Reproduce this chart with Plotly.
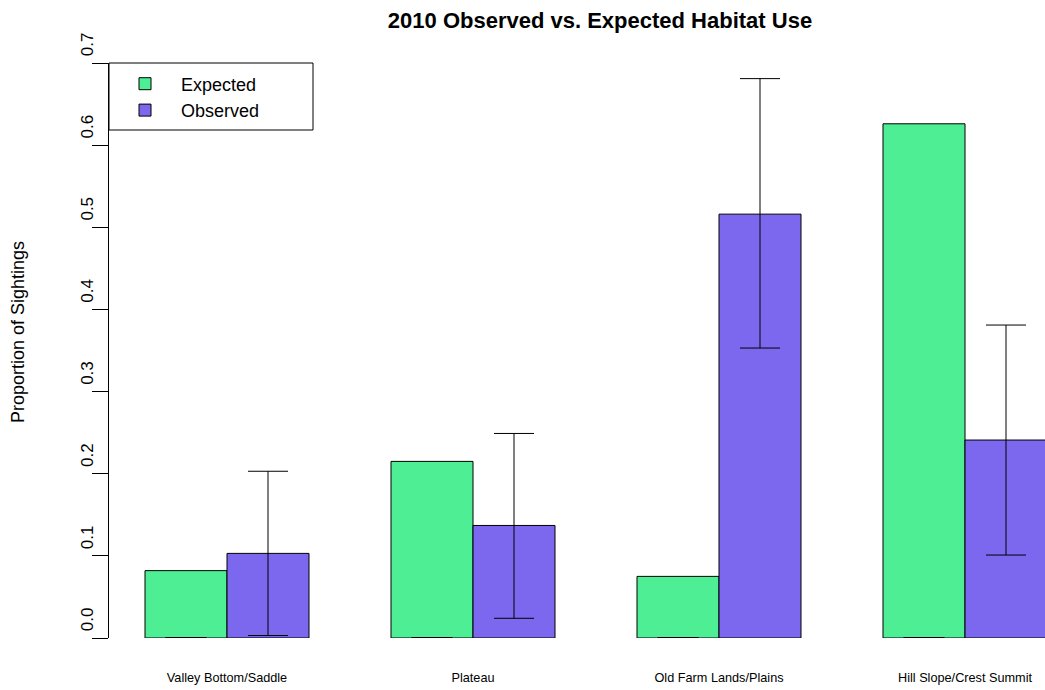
import plotly.graph_objects as go

categories = ["Valley Bottom/Saddle", "Plateau", "Old Farm Lands/Plains", "Hill Slope/Crest Summit"]
expected = [0.082, 0.215, 0.075, 0.626]
observed = [0.103, 0.137, 0.516, 0.241]
obs_upper = [0.203, 0.249, 0.681, 0.381]
obs_lower = [0.003, 0.024, 0.353, 0.101]
exp_bounds = [0.0, 0.0, 0.0, 0.0]
y_ticks = [0.0, 0.1, 0.2, 0.3, 0.4, 0.5, 0.6, 0.7]

GREEN = "#4EEE94"
PURPLE = "#7B68EE"
FONT = "Liberation Sans, Arial, Helvetica, sans-serif"

err_plus = [u - v for u, v in zip(obs_upper, observed)]
err_minus = [v - l for v, l in zip(observed, obs_lower)]

fig = go.Figure()
fig.add_trace(go.Bar(
    x=categories, y=expected, name="Expected", offsetgroup="exp",
    marker=dict(color=GREEN, line=dict(color="black", width=1)),
))
fig.add_trace(go.Bar(
    x=categories, y=observed, name="Observed", offsetgroup="obs",
    marker=dict(color=PURPLE, line=dict(color="black", width=1)),
    error_y=dict(type="data", symmetric=False, array=err_plus, arrayminus=err_minus,
                 color="black", thickness=1, width=20),
))
# zero-length interval markers for expected values (drawn at 0 as in original)
fig.add_trace(go.Bar(
    x=categories, y=exp_bounds, offsetgroup="exp", showlegend=False, hoverinfo="skip",
    marker=dict(color="rgba(0,0,0,0)", line=dict(width=0)),
    error_y=dict(type="data", array=exp_bounds, color="black", thickness=2, width=20.5),
))

W, H = 1045, 690
L, R, T, B = 109, 0, 63, 52
plot_w = W - L - R
plot_h = H - T - B
unit = 246.0
c0 = 227.0
xr = [(L - c0) / unit, (W - R - c0) / unit]

# legend frame (pixels)
LEG_R, LEG_B = 313, 130

fig.update_layout(
    width=W, height=H,
    margin=dict(l=L, r=R, t=T, b=B, pad=0),
    paper_bgcolor="white", plot_bgcolor="white",
    font=dict(family=FONT, color="black"),
    barmode="group", bargap=1/3, bargroupgap=0,
    showlegend=True,
    legend=dict(
        x=0, y=1 - 2.5 / plot_h, xanchor="left", yanchor="top", xref="paper", yref="paper",
        bgcolor="rgba(0,0,0,0)", borderwidth=0,
        font=dict(family=FONT, size=18, color="black"),
        itemwidth=62, traceorder="normal",
    ),
    title=dict(
        text="<b>2010 Observed vs. Expected Habitat Use</b>",
        font=dict(family=FONT, size=22, color="black"),
        x=600 / W, xref="container", xanchor="center",
        y=1 - 20 / H, yref="container", yanchor="middle",
    ),
    xaxis=dict(
        range=xr, showline=False, showgrid=False, zeroline=False,
        ticks="", tickfont=dict(family=FONT, size=12.7, color="black"),
        ticklabelstandoff=30,
    ),
    yaxis=dict(
        range=[0, 0.7], tickvals=y_ticks, ticktext=[f"{v:.1f}" for v in y_ticks],
        showline=True, linecolor="black", linewidth=1,
        ticks="outside", ticklen=16, tickwidth=1, tickcolor="black",
        showgrid=False, zeroline=False, tickangle=-90,
        tickfont=dict(family=FONT, size=17, color="black"),
        ticklabelshift=-16, ticklabelstandoff=-8,
    ),
    shapes=[dict(
        type="rect", xref="paper", yref="paper", layer="above",
        x0=0, x1=(LEG_R - L) / plot_w, y0=1, y1=1 - (LEG_B - T) / plot_h,
        line=dict(color="black", width=1), fillcolor="rgba(0,0,0,0)",
    )],
    annotations=[dict(
        text="Proportion of Sightings", textangle=-90,
        xref="paper", yref="paper",
        x=(18 - L) / plot_w, y=(H - B - 332) / plot_h,
        xanchor="center", yanchor="middle", showarrow=False,
        font=dict(family=FONT, size=18, color="black"),
    )],
)

fig.write_html("out.html")
